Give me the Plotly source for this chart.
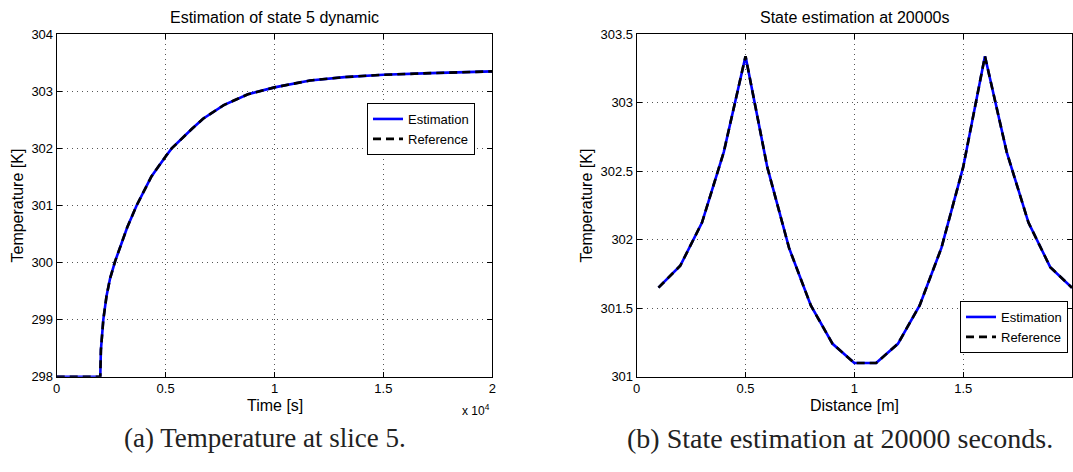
import plotly.graph_objects as go

# ---- Data: (a) temperature at slice 5 over time ----
time_s = [0, 1000, 2000, 2030, 2080, 2140, 2290, 2450, 2680, 2910, 3240, 3670, 4350,
          5000, 5280, 6200, 6720, 7670, 8780, 10000, 11630, 13210, 15000, 17170, 20000]
temp_est_a = [298, 298, 298, 298.47, 298.78, 299.0, 299.42, 299.72, 300.02, 300.28, 300.62,
              301.0, 301.51, 301.86, 302.0, 302.34, 302.52, 302.76, 302.95, 303.07, 303.19,
              303.25, 303.29, 303.32, 303.35]
temp_ref_a = list(temp_est_a)

# ---- Data: (b) state estimation at 20000 s over distance ----
distance_m = [0.1, 0.2, 0.3, 0.4, 0.5, 0.6, 0.7, 0.8, 0.9, 1.0,
              1.1, 1.2, 1.3, 1.4, 1.5, 1.6, 1.7, 1.8, 1.9, 2.0]
temp_est_b = [301.65, 301.81, 302.125, 302.64, 303.34, 302.53, 301.94, 301.52, 301.24, 301.10,
              301.10, 301.24, 301.52, 301.94, 302.53, 303.34, 302.64, 302.125, 301.80, 301.65]
temp_ref_b = list(temp_est_b)

x_tick_vals_a = [0, 5000, 10000, 15000, 20000]
x_tick_text_a = ["0", "0.5", "1", "1.5", "2"]

FONT = "Liberation Sans, Arial, Helvetica, sans-serif"
SERIF = "Liberation Serif, DejaVu Serif, serif"
W, H = 1073, 472

fig = go.Figure()

est_line = dict(color="#0000ff", width=2.6)
ref_line = dict(color="#000000", width=2.6, dash="8px,5px")

fig.add_trace(go.Scatter(x=time_s, y=temp_est_a, mode="lines", name="Estimation",
                         line=est_line, xaxis="x", yaxis="y", legend="legend"))
fig.add_trace(go.Scatter(x=time_s, y=temp_ref_a, mode="lines", name="Reference",
                         line=ref_line, xaxis="x", yaxis="y", legend="legend"))
fig.add_trace(go.Scatter(x=distance_m, y=temp_est_b, mode="lines", name="Estimation",
                         line=est_line, xaxis="x2", yaxis="y2", legend="legend2"))
fig.add_trace(go.Scatter(x=distance_m, y=temp_ref_b, mode="lines", name="Reference",
                         line=ref_line, xaxis="x2", yaxis="y2", legend="legend2"))

def px_x(p):
    return p / W

def px_y(p):
    return 1 - p / H

axis_common = dict(
    showline=True, linecolor="black", linewidth=1, mirror="ticks",
    ticks="inside", ticklen=5, tickcolor="black",
    showgrid=True, gridcolor="#555555", gridwidth=1, griddash="1px,4px",
    zeroline=False, automargin=False,
    tickfont=dict(family=FONT, size=13, color="black"),
)

dom_y = [px_y(376.7), px_y(34.3)]

legend_common = dict(bordercolor="black", borderwidth=1, bgcolor="white",
                     font=dict(family=FONT, size=13, color="black"),
                     tracegroupgap=0, itemwidth=30)

fig.update_layout(
    width=W, height=H,
    margin=dict(l=0, r=0, t=0, b=0, autoexpand=False),
    paper_bgcolor="white", plot_bgcolor="white",
    font=dict(family=FONT, size=13, color="black"),
    xaxis=dict(axis_common, domain=[px_x(56.7), px_x(492.3)], range=[0, 20000],
               tickvals=x_tick_vals_a, ticktext=x_tick_text_a, anchor="y"),
    yaxis=dict(axis_common, domain=dom_y, range=[298, 304], dtick=1, anchor="x"),
    xaxis2=dict(axis_common, domain=[px_x(636.7), px_x(1072)], range=[0, 2], dtick=0.5,
                anchor="y2"),
    yaxis2=dict(axis_common, domain=dom_y, range=[301, 303.5], dtick=0.5, anchor="x2"),
    legend=dict(legend_common, x=px_x(475), y=px_y(103), xanchor="right", yanchor="top"),
    legend2=dict(legend_common, x=px_x(1068), y=px_y(353), xanchor="right", yanchor="bottom"),
    showlegend=True,
)

def ann(text, x, y, size, family=FONT, angle=0, color="black"):
    return dict(text=text, x=px_x(x), y=px_y(y), xref="paper", yref="paper",
                xanchor="center", yanchor="middle", showarrow=False, textangle=angle,
                font=dict(family=family, size=size, color=color))

annotations = [
    ann("Estimation of state 5 dynamic", 274.5, 17, 16),
    ann("State estimation at 20000s", 854.5, 17, 16),
    ann("Time [s]", 274.5, 405, 16),
    ann("Temperature [K]", 17, 205.5, 16, angle=-90),
    ann("Distance [m]", 854.5, 405, 16),
    ann("Temperature [K]", 586, 205.5, 16, angle=-90),
    ann("x 10<sup>4</sup>", 476, 410, 12),
    ann("(a) Temperature at slice 5.", 265, 438, 27, family=SERIF, color="#222"),
    ann("(b) State estimation at 20000 seconds.", 840, 438, 28, family=SERIF, color="#222"),
]
fig.update_layout(annotations=annotations)

fig.write_html(
    "out.html",
    config={"displayModeBar": False},
    post_script="document.body.style.margin='0';document.body.style.padding='0';"
                "document.body.style.overflow='hidden';",
)
